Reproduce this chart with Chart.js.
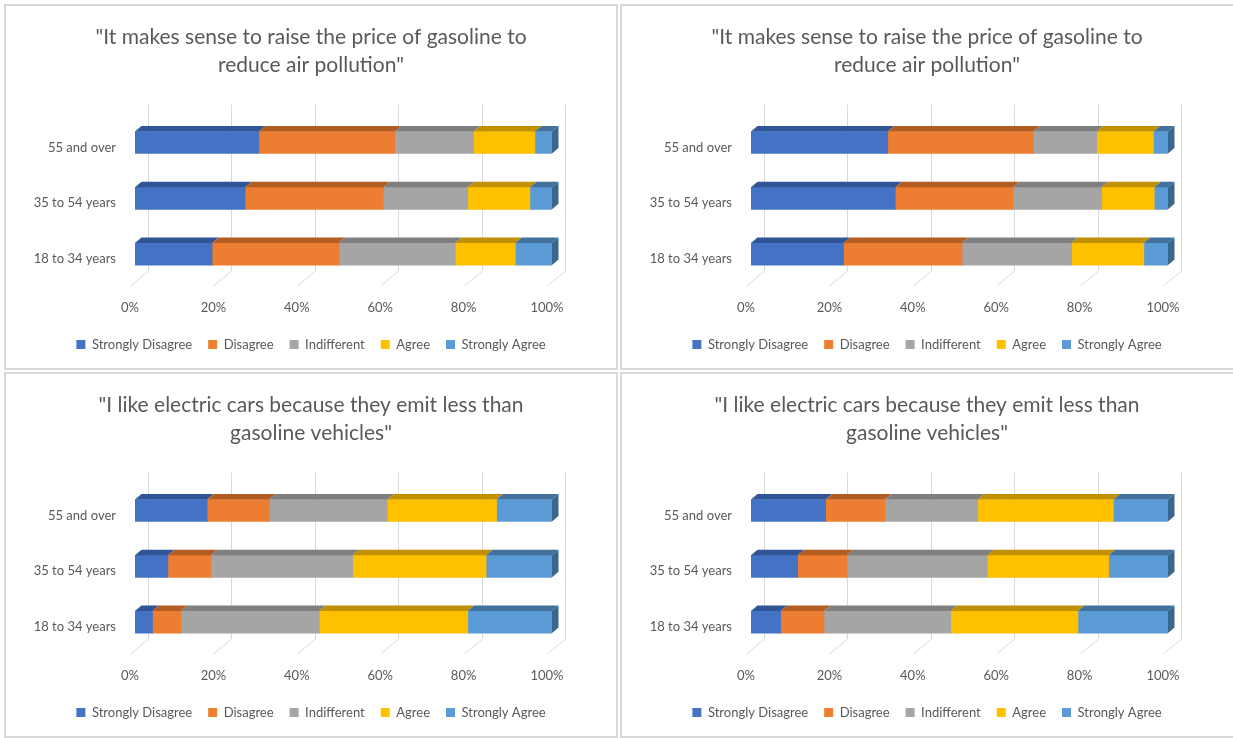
<!DOCTYPE html>
<html lang="en">
<head>
    <meta charset="UTF-8">
    <title>Survey responses by age group</title>
    <script src="https://cdn.jsdelivr.net/npm/chart.js"></script>
    <style>
        body {
            margin: 0;
            background: #ffffff;
            width: 1233px;
            height: 738px;
            overflow: hidden;
            position: relative;
        }
        .panel {
            position: absolute;
            border: 2px solid #d9d9d9;
            width: 610px;
            height: 362px;
            background: #fff;
        }
        .panel canvas { display: block; }
    </style>
</head>
<body>
    <div class="panel" style="left:4px; top:4px;"><canvas id="chartTL" width="610" height="362"></canvas></div>
    <div class="panel" style="left:620px; top:4px; width:620px;"><canvas id="chartTR" width="610" height="362"></canvas></div>
    <div class="panel" style="left:4px; top:372px;"><canvas id="chartBL" width="610" height="362"></canvas></div>
    <div class="panel" style="left:620px; top:372px; width:620px;"><canvas id="chartBR" width="610" height="362"></canvas></div>

<script>
    // categories, top to bottom as shown
    const categories = ['55 and over', '35 to 54 years', '18 to 34 years'];
    const responses = ['Strongly Disagree', 'Disagree', 'Indifferent', 'Agree', 'Strongly Agree'];
    const tickValues = [0, 20, 40, 60, 80, 100];

    const gasTitle = ['"It makes sense to raise the price of gasoline to', 'reduce air pollution"'];
    const evTitle = ['"I like electric cars because they emit less than', 'gasoline vehicles"'];

    // top left: gasoline (percent)
    const gasLeftStronglyDisagree = [29.7, 26.4, 18.5];
    const gasLeftDisagree         = [32.6, 33.2, 30.4];
    const gasLeftIndifferent      = [18.9, 20.2, 27.9];
    const gasLeftAgree            = [14.7, 14.9, 14.4];
    const gasLeftStronglyAgree    = [4.1, 5.3, 8.8];

    // top right: gasoline
    const gasRightStronglyDisagree = [32.8, 34.6, 22.2];
    const gasRightDisagree         = [34.9, 28.2, 28.4];
    const gasRightIndifferent      = [15.2, 21.3, 26.3];
    const gasRightAgree            = [13.6, 12.6, 17.3];
    const gasRightStronglyAgree    = [3.5, 3.3, 5.8];

    // bottom left: electric cars
    const evLeftStronglyDisagree = [17.3, 7.9, 4.2];
    const evLeftDisagree         = [14.9, 10.3, 6.8];
    const evLeftIndifferent      = [28.3, 34.0, 33.2];
    const evLeftAgree            = [26.2, 32.0, 35.6];
    const evLeftStronglyAgree    = [13.3, 15.8, 20.2];

    // bottom right: electric cars
    const evRightStronglyDisagree = [17.9, 11.2, 7.1];
    const evRightDisagree         = [14.2, 11.8, 10.4];
    const evRightIndifferent      = [22.3, 33.7, 30.4];
    const evRightAgree            = [32.5, 29.1, 30.5];
    const evRightStronglyAgree    = [13.1, 14.2, 21.6];

    const faceColors = ['#4472c4', '#ed7d31', '#a5a5a5', '#ffc000', '#5b9bd5'];
    const topColors  = ['#2f5597', '#b35d23', '#7f7f7f', '#c09000', '#41719c'];
    const sideColor  = '#3b6690';
    const textColor  = '#595959';

    Chart.defaults.font.family = 'Lato, "Open Sans", sans-serif';
    Chart.defaults.color = textColor;

    // fake Excel-style 3D: back-wall grid + top/side faces on the bars
    const bar3d = {
        id: 'bar3d',
        beforeDatasetsDraw(chart) {
            const {ctx, chartArea, scales: {x}} = chart;
            ctx.save();
            ctx.strokeStyle = '#d9d9d9';
            ctx.lineWidth = 1;
            tickValues.forEach(v => {
                const px = Math.round(x.getPixelForValue(v)) + 0.5;
                ctx.beginPath();
                ctx.moveTo(px + 13, chartArea.top - 10);
                ctx.lineTo(px + 13, chartArea.bottom - 11);
                ctx.lineTo(px - 5, chartArea.bottom + 4);
                ctx.stroke();
            });
            ctx.restore();
        },
        afterDatasetsDraw(chart) {
            const {ctx} = chart;
            const dx = 6.5, dy = 5.5;
            const n = chart.data.datasets.length;
            ctx.save();
            chart.data.datasets.forEach((ds, i) => {
                const meta = chart.getDatasetMeta(i);
                meta.data.forEach(bar => {
                    const top = bar.y - bar.height / 2;
                    const bottom = bar.y + bar.height / 2;
                    ctx.fillStyle = topColors[i];
                    ctx.beginPath();
                    ctx.moveTo(bar.base, top);
                    ctx.lineTo(bar.base + dx, top - dy);
                    ctx.lineTo(bar.x + dx, top - dy);
                    ctx.lineTo(bar.x, top);
                    ctx.closePath();
                    ctx.fill();
                    if (i === n - 1) {
                        ctx.fillStyle = sideColor;
                        ctx.beginPath();
                        ctx.moveTo(bar.x, top);
                        ctx.lineTo(bar.x + dx, top - dy);
                        ctx.lineTo(bar.x + dx, bottom - dy);
                        ctx.lineTo(bar.x, bottom);
                        ctx.closePath();
                        ctx.fill();
                    }
                });
            });
            ctx.restore();
        }
    };

    function makeChart(id, title, series) {
        new Chart(document.getElementById(id), {
            type: 'bar',
            data: {
                labels: categories,
                datasets: series.map((values, i) => ({
                    label: responses[i],
                    data: values,
                    backgroundColor: faceColors[i],
                    borderWidth: 0,
                    barThickness: 22
                }))
            },
            options: {
                indexAxis: 'y',
                responsive: false,
                animation: false,
                layout: { padding: { left: 0, right: 0, top: 0, bottom: 7 } },
                plugins: {
                    title: {
                        display: true,
                        text: title,
                        color: textColor,
                        font: { size: 21, weight: 'normal', lineHeight: 1.3 },
                        padding: { top: 18, bottom: 36 }
                    },
                    legend: {
                        position: 'bottom',
                        labels: {
                            boxWidth: 9,
                            boxHeight: 9,
                            padding: 16,
                            color: textColor,
                            font: { size: 13 }
                        }
                    },
                    tooltip: { enabled: false }
                },
                scales: {
                    x: {
                        stacked: true,
                        min: 0,
                        max: 100,
                        grid: { display: false },
                        border: { display: false },
                        afterBuildTicks: scale => { scale.ticks = tickValues.map(v => ({ value: v })); },
                        afterFit: scale => { scale.height = 40; },
                        ticks: {
                            padding: 10,
                            labelOffset: -5,
                            color: textColor,
                            font: { size: 13 },
                            callback: v => v + '%'
                        }
                    },
                    y: {
                        stacked: true,
                        grid: { display: false },
                        border: { display: false },
                        afterFit: scale => { scale.width = 129; },
                        ticks: {
                            padding: 11,
                            labelOffset: 5,
                            color: textColor,
                            font: { size: 13 }
                        }
                    },
                    // empty spacer on the right so title and legend stay centred on the panel
                    spacer: {
                        axis: 'y',
                        position: 'right',
                        grid: { display: false },
                        border: { display: false },
                        ticks: { display: false },
                        afterFit: scale => { scale.width = 64; }
                    }
                }
            },
            plugins: [bar3d]
        });
    }

    makeChart('chartTL', gasTitle, [gasLeftStronglyDisagree, gasLeftDisagree, gasLeftIndifferent, gasLeftAgree, gasLeftStronglyAgree]);
    makeChart('chartTR', gasTitle, [gasRightStronglyDisagree, gasRightDisagree, gasRightIndifferent, gasRightAgree, gasRightStronglyAgree]);
    makeChart('chartBL', evTitle, [evLeftStronglyDisagree, evLeftDisagree, evLeftIndifferent, evLeftAgree, evLeftStronglyAgree]);
    makeChart('chartBR', evTitle, [evRightStronglyDisagree, evRightDisagree, evRightIndifferent, evRightAgree, evRightStronglyAgree]);
</script>
</body>
</html>
